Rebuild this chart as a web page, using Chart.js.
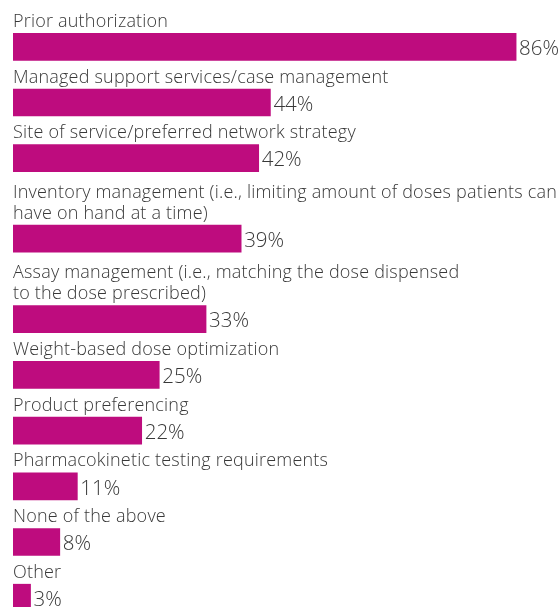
<!DOCTYPE html>
<html>
<head>
<meta charset="utf-8">
<script src="https://cdn.jsdelivr.net/npm/chart.js@4"></script>
<style>
    html, body { margin: 0; padding: 0; background: #fff; }
</style>
</head>
<body>
<canvas id="chart" width="560" height="607"></canvas>
<script>

// each label is a list of lines, as wrapped in the original
const labels = [
    ['Prior authorization'],
    ['Managed support services/case management'],
    ['Site of service/preferred network strategy'],
    ['Inventory management (i.e., limiting amount of doses patients can', 'have on hand at a time)'],
    ['Assay management (i.e., matching the dose dispensed', 'to the dose prescribed)'],
    ['Weight-based dose optimization'],
    ['Product preferencing'],
    ['Pharmacokinetic testing requirements'],
    ['None of the above'],
    ['Other'],
];
const values = [86, 44, 42, 39, 33, 25, 22, 11, 8, 3];

const barColor = '#BE0C7E';
const textColor = '#383838';
const fontFamily = '"Open Sans", sans-serif';

// vertical layout: bars are placed on a linear y scale, one slot per item,
// slots grow with the number of label lines above the bar
const BAR_H = 27;
const FIRST_CENTER = 33.3 + BAR_H / 2;
const STEP = 55.7;
const EXTRA_LINE = 24.8;
const LINE_H = 21;

function slotPositions() {
    let pos = [];
    let y = FIRST_CENTER;
    for (let i = 0; i < labels.length; i++) {
        if (i > 0) {
            y += STEP + (labels[i].length - 1) * EXTRA_LINE;
        }
        pos.push(y);
    }
    return pos;
}

const labelPlugin = {
    id: 'labelPlugin',
    afterDatasetsDraw(chart) {
        const ctx = chart.ctx;
        const left = chart.chartArea.left;
        const meta = chart.getDatasetMeta(0);
        ctx.save();
        ctx.fillStyle = textColor;
        ctx.textBaseline = 'alphabetic';
        ctx.textAlign = 'left';
        meta.data.forEach((bar, i) => {
            const top = bar.y - BAR_H / 2;
            // category label above the bar
            ctx.font = '300 18px ' + fontFamily;
            ctx.letterSpacing = '0.2px';
            const lines = labels[i];
            for (let k = 0; k < lines.length; k++) {
                const baseline = top - 6.5 - (lines.length - 1 - k) * LINE_H;
                ctx.fillText(lines[k], left, baseline);
            }
            // value to the right of the bar
            ctx.font = '300 20.5px ' + fontFamily;
            ctx.letterSpacing = '0px';
            ctx.fillText(values[i] + '%', bar.x + 3, top + 21.7);
        });
        ctx.restore();
    }
};

const pos = slotPositions();

new Chart(document.getElementById('chart'), {
    type: 'bar',
    data: {
        datasets: [{
            data: values.map((v, i) => ({x: v, y: pos[i]})),
            backgroundColor: barColor,
            borderWidth: 0,
            barThickness: BAR_H,
        }]
    },
    options: {
        indexAxis: 'y',
        responsive: false,
        animation: false,
        devicePixelRatio: 1,
        layout: {
            padding: {left: 13, right: 0, top: 0, bottom: 0}
        },
        scales: {
            x: {
                type: 'linear',
                min: 0,
                max: 93.5,
                display: false,
            },
            y: {
                type: 'linear',
                min: 0,
                max: 607,
                reverse: true,
                offset: false,
                display: false,
            }
        },
        plugins: {
            legend: {display: false},
            tooltip: {enabled: false},
        }
    },
    plugins: [labelPlugin]
});
</script>
</body>
</html>
